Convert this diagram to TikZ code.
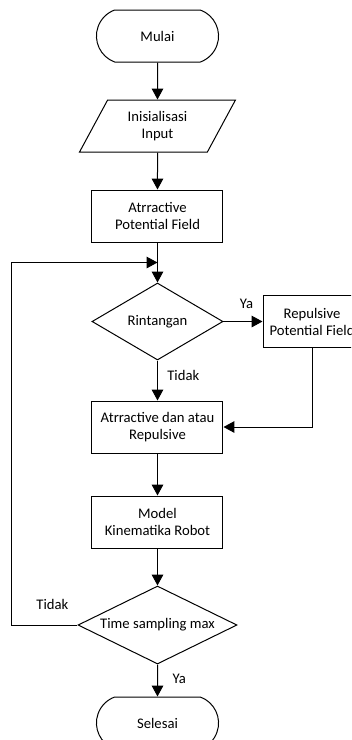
\documentclass[tikz,border=0pt]{standalone}
\usepackage{fontspec}
\setmainfont{Carlito}
\usepackage{tikz}
\usetikzlibrary{positioning,arrows.meta,shapes.geometric,shapes.misc,calc}

\begin{document}
\begin{tikzpicture}[
  trm/.style={draw, rounded rectangle, rounded rectangle arc length=140, minimum width=98.25pt, minimum height=39pt, align=center},
  inp/.style={draw, trapezium, trapezium left angle=63.4, trapezium right angle=116.6, trapezium stretches=true, minimum width=117.75pt, minimum height=39pt, align=center},
  prc/.style={draw, rectangle, minimum width=98.25pt, minimum height=39pt, align=center},
  dcs/.style={draw, diamond, aspect=2, inner sep=0pt, align=center},
  arw/.style={-{Triangle[length=8.2pt,width=8.7pt]}},
  lbl/.style={inner sep=1pt},
  every node/.style={font=\fontsize{11}{12.75}\selectfont},
  line width=0.75pt, node distance=27.75pt]
\useasboundingbox (-118.125pt,27pt) rectangle (145.125pt,-528pt);
\clip (-118.125pt,27pt) rectangle (145.125pt,-528pt);
\node[trm] (mulai) {Mulai};
\node[inp, below=of mulai] (init) {Inisialisasi\\Input};
\node[prc, below=of init] (apf) {Atrractive\\Potential Field};
\node[dcs, minimum width=98.25pt, minimum height=57.75pt, below=30pt of apf] (rint) {Rintangan};
\node[prc, right=29.25pt of rint, minimum width=73.5pt, inner xsep=4pt] (rpf) {Repulsive\\Potential Field};
\node[prc, below=30pt of rint] (gab) {Atrractive dan atau\\Repulsive};
\node[prc, below=31.5pt of gab] (kin) {Model\\Kinematika Robot};
\node[dcs, minimum width=119.25pt, minimum height=58.5pt, below=of kin] (tsm) {Time sampling max};
\node[trm, below=24pt of tsm] (selesai) {Selesai};
\coordinate (gabung) at ($(apf.south)!0.5!(rint.north)$);

\draw[arw] (mulai) -- (init);
\draw[arw] (init) -- (apf);
\draw[arw] (apf) -- (rint);
\draw[arw] (rint.east) -- node[lbl, above=8pt, pos=0.59] {Ya} (rpf.west);
\draw[arw] (rint) -- node[lbl, right=6pt, pos=0.375] {Tidak} (gab);
\draw[arw] (rpf.south) |- (gab.east);
\draw[arw] (gab) -- (kin);
\draw[arw] (kin) -- (tsm);
\draw[arw] (tsm) -- node[lbl, right=10pt, pos=0.44] {Ya} (selesai);
\draw[arw] (tsm.west) -- node[lbl, above=10pt, pos=0.38] {Tidak} ++(-49.5pt,0) |- (gabung);
\end{tikzpicture}
\end{document}
